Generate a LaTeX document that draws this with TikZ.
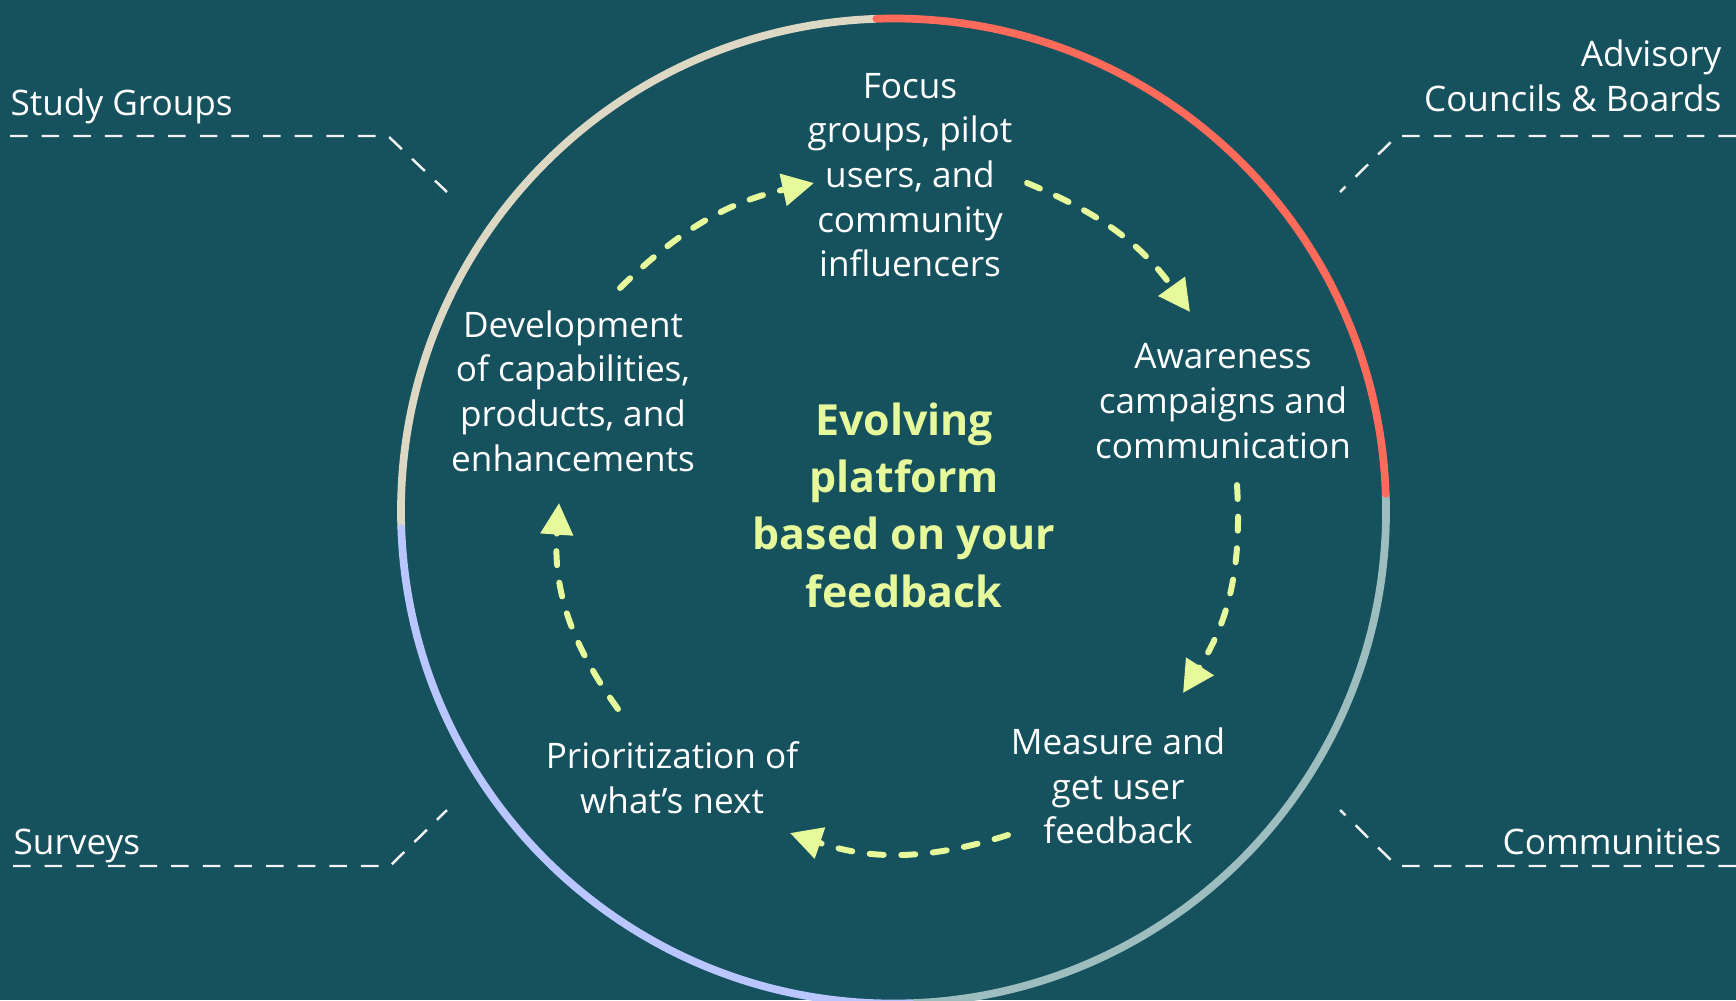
\documentclass[tikz,border=0pt]{standalone}
\usepackage{fontspec}
\setmainfont{Open Sans}
\usetikzlibrary{arrows.meta}
\definecolor{Backdrop}{HTML}{16515E}
\definecolor{Lime}{HTML}{E6F99B}
\definecolor{Chalk}{HTML}{F2F2F2}
\definecolor{Sand}{HTML}{DDD8C3}
\definecolor{Coral}{HTML}{FF6B5A}
\definecolor{Lavender}{HTML}{B9C6FF}
\definecolor{Sage}{HTML}{9DBDBF}

\begin{document}
\begin{tikzpicture}[
  x=0.1mm,y=-0.1mm,
  stage/.style={text=white,align=center,inner sep=0pt,font=\fontsize{10}{12.7}\selectfont},
  side/.style={text=white,inner sep=0pt,font=\fontsize{10}{12.7}\selectfont},
  hub/.style={text=Lime,align=center,inner sep=0pt,font=\bfseries\fontsize{12.2}{16.3}\selectfont},
  flow/.style={draw=Lime,line width=1.7pt,line cap=round,dash pattern=on 4pt off 5pt,-{Triangle[length=9pt,width=9pt]}},
  leader/.style={draw=Chalk,line width=0.7pt,dash pattern=on 5pt off 4pt},
  ring/.style={line width=2.2pt}
]
  \useasboundingbox (0,0) rectangle (1736,1000);
  \fill[Backdrop] (0,0) rectangle (1736,1000);

  % outer ring
  \coordinate (c) at (893.5,511);
  \draw[ring,Sand] (c) ++(178:492.5) arc[start angle=178,end angle=268,radius=492.5];
  \draw[ring,Sage] (c) ++(-2:492.5) arc[start angle=-2,end angle=88,radius=492.5];
  \draw[ring,Lavender,line cap=round] (c) ++(88:492.5) arc[start angle=88,end angle=178,radius=492.5];
  \draw[ring,Coral,line cap=round] (c) ++(-92:492.5) arc[start angle=-92,end angle=-2,radius=492.5];

  % stages of the loop
  \node[stage] (focus) at (910,175) {Focus\\groups, pilot\\users, and\\community\\influencers};
  \node[stage] (aware) at (1223,401) {Awareness\\campaigns and\\communication};
  \node[stage] (measure) at (1118,786) {Measure and\\get user\\feedback};
  \node[stage] (prior) at (672,778) {Prioritization of\\what’s next};
  \node[stage] (dev) at (573,391) {Development\\of capabilities,\\products, and\\enhancements};
  \node[hub] (hub) at (904,505) {Evolving\\platform\\based on your\\feedback};

  % arrow ends
  \coordinate (dev-out) at (620,288);
  \coordinate (focus-in) at (814,183);
  \coordinate (focus-out) at (1027,183);
  \coordinate (aware-in) at (1190,312);
  \coordinate (aware-out) at (1237,485);
  \coordinate (measure-in) at (1183,693);
  \coordinate (measure-out) at (1008,835);
  \coordinate (prior-in) at (790,833);
  \coordinate (prior-out) at (618,709);
  \coordinate (dev-in) at (559,503);
  \draw[flow] (dev-out) to[bend left=16] (focus-in);
  \draw[flow] (focus-out) to[bend left=16] (aware-in);
  \draw[flow] (aware-out) to[bend left=18] (measure-in);
  \draw[flow] (measure-out) to[bend left=18] (prior-in);
  \draw[flow] (prior-out) to[bend left=20] (dev-in);

  % channels round the ring
  \node[side,anchor=base west] (study) at (10,115) {Study Groups};
  \node[side,align=right,anchor=north east] (advisory) at (1722,39) {Advisory\\Councils \& Boards};
  \node[side,anchor=base west] (surveys) at (13,854) {Surveys};
  \node[side,anchor=base east] (communities) at (1722,854) {Communities};

  \coordinate (study-knee) at (388,136);
  \coordinate (study-end) at (447,192);
  \coordinate (advisory-edge) at (1736,136);
  \coordinate (advisory-knee) at (1397,136);
  \coordinate (advisory-end) at (1340,192);
  \coordinate (surveys-knee) at (390,866);
  \coordinate (surveys-end) at (447,810);
  \coordinate (communities-edge) at (1736,866);
  \coordinate (communities-knee) at (1397,866);
  \coordinate (communities-end) at (1340,810);
  \draw[leader] (study.west |- study-knee) -- (study-knee) -- (study-end);
  \draw[leader] (advisory-edge) -- (advisory-knee) -- (advisory-end);
  \draw[leader] (surveys.west |- surveys-knee) -- (surveys-knee) -- (surveys-end);
  \draw[leader] (communities-edge) -- (communities-knee) -- (communities-end);
\end{tikzpicture}
\end{document}
